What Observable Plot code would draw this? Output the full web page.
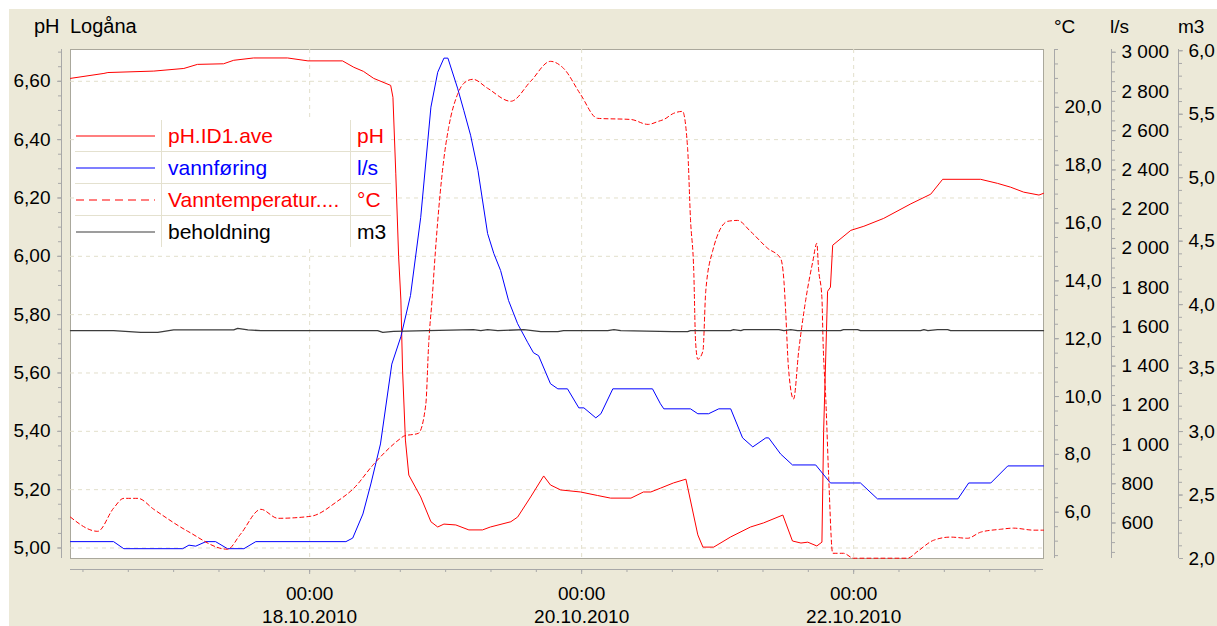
<!DOCTYPE html>
<html><head><meta charset="utf-8">
<script src="https://cdn.jsdelivr.net/npm/d3@7"></script>
<script src="https://cdn.jsdelivr.net/npm/@observablehq/plot@0.6"></script>
<style>
html,body{margin:0;padding:0;background:#fff;}
#wrap{position:relative;width:1217px;height:626px;overflow:hidden;font-family:"Liberation Sans",Arial,sans-serif;}
#bg{position:absolute;left:9px;top:9px;right:0;bottom:0;background:#ece9d8;}
.layer{position:absolute;left:0;top:0;}
.ttl{position:absolute;line-height:1;color:#000;white-space:nowrap;}
#legend{position:absolute;left:75px;top:120px;background:#fff;}
#legend table{border-collapse:collapse;border-style:hidden;}
#legend td{border:1px solid #e4e1cf;height:31px;padding:0;font-size:21px;white-space:nowrap;vertical-align:middle;}
#legend td.s{width:86px;}
#legend td.n{width:182px;padding-left:6px;}
#legend td.u{width:34px;padding-left:6px;}
#legend svg{display:block;}
</style></head>
<body>
<div id="wrap">
  <div id="bg"></div>
  <div id="layers"></div>
  <div class="ttl" style="left:34px;top:16px;font-size:20px;">pH</div>
  <div class="ttl" style="left:70px;top:16px;font-size:20px;">Logåna</div>
  <div class="ttl" style="left:1054px;top:17px;font-size:19px;">°C</div>
  <div class="ttl" style="left:1110px;top:17px;font-size:19px;">l/s</div>
  <div class="ttl" style="left:1178px;top:17px;font-size:19px;">m3</div>
  <div id="legend"></div>
</div>
<script>
// ---- data (time in hours after 16.10.2010 00:00) ----
const phHours = [5.8, 11.7, 12.4, 20.5, 25.8, 28.2, 32.8, 34.6, 38.1, 44.1, 47.7, 53.8, 55.8, 57.5, 59.3, 62.3, 62.7, 63.2, 63.7, 64.1, 64.4, 64.9, 65.5, 67.6, 69.4, 70.6, 71.7, 73.8, 76.1, 78.5, 79.9, 83.5, 84.7, 87.0, 89.3, 90.5, 92.3, 95.8, 98.8, 101.1, 104.7, 106.9, 108.2, 109.9, 112.2, 114.4, 116.5, 117.4, 119.3, 122.3, 125.8, 128.1, 131.5, 133.2, 134.7, 135.9, 137.5, 138.4, 138.7, 139.4, 139.9, 140.3, 143.5, 145.8, 149.3, 154.1, 157.6, 159.7, 166.4, 169.4, 171.7, 174.0, 176.7, 177.5];
const phValues = [6.61, 6.627, 6.63, 6.635, 6.644, 6.658, 6.66, 6.672, 6.68, 6.68, 6.67, 6.67, 6.648, 6.634, 6.61, 6.586, 6.545, 6.285, 6.0, 5.85, 5.61, 5.37, 5.25, 5.175, 5.09, 5.072, 5.082, 5.079, 5.062, 5.062, 5.072, 5.09, 5.106, 5.175, 5.247, 5.216, 5.199, 5.192, 5.18, 5.171, 5.171, 5.192, 5.192, 5.205, 5.223, 5.236, 5.045, 5.003, 5.003, 5.038, 5.072, 5.086, 5.113, 5.024, 5.017, 5.02, 5.007, 5.02, 5.40, 5.88, 5.894, 6.038, 6.089, 6.103, 6.13, 6.18, 6.213, 6.264, 6.264, 6.25, 6.237, 6.22, 6.21, 6.216];

const flowHours = [5.8, 13.4, 15.2, 25.6, 26.7, 27.9, 29.7, 31.4, 33.5, 36.4, 38.5, 54.4, 55.6, 57.4, 58.8, 60.5, 62.5, 64.1, 65.8, 67.6, 69.4, 70.6, 71.7, 72.4, 74.1, 75.2, 76.4, 77.7, 79.4, 80.5, 81.7, 83.1, 84.7, 86.5, 87.5, 88.4, 90.5, 91.8, 93.5, 95.5, 96.4, 98.5, 99.4, 101.5, 108.5, 109.9, 110.5, 115.2, 116.5, 118.4, 120.2, 122.3, 124.4, 126.2, 128.5, 129.0, 131.1, 133.2, 137.3, 139.9, 145.2, 148.2, 162.4, 164.3, 168.2, 171.2, 177.5];
const flowValues = [505, 505, 469, 469, 487, 482, 505, 505, 469, 469, 505, 505, 523, 646, 799, 1003, 1410, 1550, 1760, 2158, 2720, 2898, 2970, 2970, 2817, 2704, 2577, 2398, 2076, 1974, 1887, 1734, 1616, 1519, 1468, 1453, 1310, 1284, 1284, 1187, 1187, 1136, 1157, 1284, 1284, 1208, 1182, 1182, 1157, 1157, 1182, 1182, 1034, 988, 1034, 1034, 952, 896, 896, 804, 804, 723, 723, 804, 804, 891, 891];

const tempHours = [5.8, 10.6, 13.4, 15.2, 17.7, 20.5, 26.5, 33.5, 35.8, 39.4, 42.4, 48.2, 52.9, 55.8, 59.3, 64.1, 64.6, 67.2, 68.5, 69.0, 69.7, 69.9, 71.7, 72.5, 74.1, 75.2, 76.8, 79.4, 83.5, 87.0, 90.5, 92.8, 95.8, 98.8, 104.7, 107.7, 109.6, 110.5, 112.2, 113.8, 114.7, 115.2, 115.8, 116.1, 116.5, 117.4, 117.9, 119.1, 121.8, 123.5, 125.8, 128.8, 131.1, 131.7, 132.0, 132.5, 133.4, 134.3, 135.5, 136.8, 137.5, 137.8, 138.4, 138.6, 139.1, 139.6, 140.3, 142.2, 144.0, 153.5, 155.3, 158.1, 161.1, 164.1, 166.4, 169.9, 172.2, 175.8, 177.5];
const tempValues = [5.83, 5.34, 6.14, 6.48, 6.48, 6.1, 5.34, 4.72, 5.24, 6.1, 5.79, 5.86, 6.38, 6.83, 7.66, 8.56, 8.63, 8.73, 9.73, 11.8, 13.6, 14.2, 18.24, 19.27, 20.45, 20.83, 20.97, 20.66, 20.21, 20.9, 21.59, 21.35, 20.45, 19.62, 19.58, 19.41, 19.52, 19.58, 19.79, 19.86, 18.58, 16.16, 14.23, 11.91, 11.29, 11.57, 13.64, 15.02, 16.06, 16.09, 15.71, 15.13, 14.78, 13.98, 12.95, 10.98, 9.91, 11.57, 13.29, 14.68, 15.3, 14.43, 13.4, 11.91, 9.84, 7.18, 4.58, 4.58, 4.41, 4.41, 4.65, 5.03, 5.14, 5.1, 5.31, 5.41, 5.45, 5.38, 5.38];

const storHours = [5.8, 13.4, 18.2, 21.2, 24.0, 34.6, 35.3, 37.1, 39.4, 60.0, 60.9, 62.8, 76.9, 78.2, 79.4, 81.2, 85.8, 88.8, 91.8, 92.8, 100.6, 101.7, 102.9, 112.1, 114.7, 115.2, 122.3, 122.8, 124.1, 124.6, 130.8, 131.7, 132.9, 134.1, 141.7, 142.2, 144.7, 145.2, 155.8, 156.4, 157.1, 158.8, 160.6, 161.1, 177.5];
const storValues = [3.795, 3.795, 3.782, 3.782, 3.801, 3.801, 3.813, 3.801, 3.795, 3.795, 3.782, 3.79, 3.803, 3.795, 3.803, 3.795, 3.803, 3.787, 3.787, 3.795, 3.795, 3.803, 3.795, 3.787, 3.787, 3.795, 3.795, 3.803, 3.795, 3.803, 3.803, 3.795, 3.803, 3.795, 3.795, 3.803, 3.803, 3.795, 3.795, 3.803, 3.795, 3.803, 3.803, 3.795, 3.795];

// ---- axes / ticks ----
const xDomainHours = [5.8, 177.5];
const xLabelTicks = ["2010-10-18T00:00:00Z", "2010-10-20T00:00:00Z", "2010-10-22T00:00:00Z"];
const phDomain = [4.964, 6.709];
const phTicks = [5.0, 5.2, 5.4, 5.6, 5.8, 6.0, 6.2, 6.4, 6.6];
const tempDomain = [4.4, 22.0];
const tempTicks = [6, 8, 10, 12, 14, 16, 18, 20];
const flowDomain = [419, 3014];
const flowTicks = [600, 800, 1000, 1200, 1400, 1600, 1800, 2000, 2200, 2400, 2600, 2800, 3000];
const storDomain = [2.0, 6.01];
const storTicks = [2.0, 2.5, 3.0, 3.5, 4.0, 4.5, 5.0, 5.5, 6.0];

const seriesNames = ["pH.ID1.ave", "vannføring", "Vanntemperatur....", "beholdning"];
const seriesUnits = ["pH", "l/s", "°C", "m3"];
const seriesColors = ["#ff0000", "#0000ff", "#ff0000", "#3c3c3c"];
const seriesDash = [null, null, "4,3", null];

// ---- helpers ----
const t0 = Date.UTC(2010, 9, 16);
const toDate = h => new Date(t0 + h * 3600000);
const zip = (hs, vs) => hs.map((h, i) => ({t: toDate(h), v: vs[i]}));
const xDomain = xDomainHours.map(toDate);
const minorX = d3.range(8, 178, 8).map(toDate);
const labelX = xLabelTicks.map(s => new Date(s));
const comma = n => d => d.toFixed(n).replace(".", ",");
const thousands = d => d >= 1000 ? `${Math.floor(d / 1000)} ${String(d % 1000).padStart(3, "0")}` : String(d);
const blank = () => "";
const axisGray = "#a8a8a8";
const gridColor = "#e2dfcb";

const W = 1217, H = 626;
const common = {
  width: W, height: H,
  marginLeft: 70, marginRight: 174, marginTop: 49, marginBottom: 68,
  x: {type: "utc", domain: xDomain, axis: null, label: null},
  style: {background: "transparent", fontFamily: "'Liberation Sans', Arial, sans-serif", fontSize: "19px", color: "#000", overflow: "visible"}
};

function rightAxis(ticks, minorStep, domain, dx, fmt) {
  const minor = d3.range(Math.ceil(domain[0] / minorStep) * minorStep, domain[1] + 1e-9, minorStep);
  return [
    Plot.ruleX([xDomain[1]], {dx, stroke: axisGray}),
    Plot.axisY(minor, {anchor: "right", dx, tickSize: 3, tickFormat: blank, stroke: axisGray, label: null}),
    Plot.axisY(ticks, {anchor: "right", dx, tickSize: 4, tickPadding: 6, tickFormat: fmt, stroke: axisGray, label: null})
  ];
}

const layers = document.getElementById("layers");
function add(svg) { svg.classList.add("layer"); svg.style.position = "absolute"; svg.style.left = "0"; svg.style.top = "0"; layers.appendChild(svg); }

// base layer: pH
const phMinor = d3.range(4.95, 6.71, 0.05).filter(v => v >= phDomain[0]);
add(Plot.plot({
  ...common,
  y: {domain: phDomain, axis: null, label: null},
  marks: [
    Plot.frame({fill: "white", stroke: "#aaa89c"}),
    Plot.gridY(phTicks, {stroke: gridColor, strokeOpacity: 1, strokeDasharray: "4,4"}),
    Plot.gridX(labelX, {stroke: gridColor, strokeOpacity: 1, strokeDasharray: "4,4"}),
    Plot.ruleX([xDomain[0]], {dx: -9, stroke: axisGray}),
    Plot.axisY(phMinor, {anchor: "left", dx: -9, tickSize: 3, tickFormat: blank, stroke: axisGray, label: null}),
    Plot.axisY(phTicks, {anchor: "left", dx: -9, tickSize: 4, tickPadding: 7, tickFormat: comma(2), stroke: axisGray, label: null}),
    Plot.ruleY([phDomain[0]], {dy: 11, stroke: axisGray}),
    Plot.axisX(minorX, {anchor: "bottom", dy: 11, tickSize: 3, tickFormat: blank, stroke: axisGray, label: null}),
    Plot.axisX(labelX, {anchor: "bottom", dy: 11, tickSize: 5, tickPadding: 9, stroke: axisGray, label: null,
      tickFormat: d3.utcFormat("%H:%M\n%d.%m.%Y"), lineHeight: 1.21}),
    Plot.line(zip(phHours, phValues), {x: "t", y: "v", stroke: seriesColors[0], strokeWidth: 1})
  ]
}));

// flow layer (l/s)
add(Plot.plot({
  ...common,
  y: {domain: flowDomain, axis: null, label: null},
  marks: [
    ...rightAxis(flowTicks, 50, flowDomain, 68, thousands),
    Plot.line(zip(flowHours, flowValues), {x: "t", y: "v", stroke: seriesColors[1], strokeWidth: 1})
  ]
}));

// temperature layer (°C)
add(Plot.plot({
  ...common,
  y: {domain: tempDomain, axis: null, label: null},
  marks: [
    ...rightAxis(tempTicks, 0.5, tempDomain, 11, comma(1)),
    Plot.line(zip(tempHours, tempValues), {x: "t", y: "v", stroke: seriesColors[2], strokeWidth: 1, strokeDasharray: seriesDash[2], curve: "monotone-x"})
  ]
}));

// storage layer (m3)
add(Plot.plot({
  ...common,
  y: {domain: storDomain, axis: null, label: null},
  marks: [
    ...rightAxis(storTicks, 0.1, storDomain, 135, comma(1)),
    Plot.line(zip(storHours, storValues), {x: "t", y: "v", stroke: seriesColors[3], strokeWidth: 1.3})
  ]
}));

// legend
const rows = seriesNames.map((name, i) => {
  const dash = seriesDash[i] ? ` stroke-dasharray="8,5"` : "";
  const txt = seriesColors[i] === "#3c3c3c" ? "#000" : seriesColors[i];
  return `<tr>
    <td class="s"><svg width="86" height="4"><line x1="1" x2="80" y1="2" y2="2" stroke="${seriesColors[i]}" stroke-width="1.2"${dash}/></svg></td>
    <td class="n" style="color:${txt}">${name}</td>
    <td class="u" style="color:${txt}">${seriesUnits[i]}</td>
  </tr>`;
}).join("");
document.getElementById("legend").innerHTML = `<table>${rows}</table>`;
</script>
</body></html>
